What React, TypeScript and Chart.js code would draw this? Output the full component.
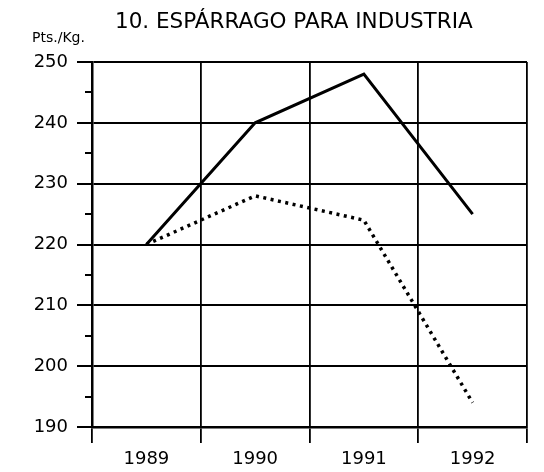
import { useEffect, useRef } from "react";
import { Chart, registerables } from "chart.js";
Chart.register(...registerables);

const chartTitle = "10. ESPÁRRAGO PARA INDUSTRIA";
const unitLabel = "Pts./Kg.";
const years = ["1989", "1990", "1991", "1992"];
const seriesSolid = [220, 240, 248, 225];
const seriesDotted = [220, 228, 224, 194];
const yMin = 190;
const yMax = 250;
const yMajorStep = 10;
const yMinorStep = 5;

const FONT = "'DejaVu Sans', sans-serif";
const INK = "#000";

const decor = {
  id: "decor",
  afterDraw(chart: any) {
    const ctx = chart.ctx;
    const y = chart.scales.y;
    ctx.save();
    ctx.strokeStyle = INK;
    ctx.lineWidth = 2;
    for (let v = yMin + yMinorStep; v < yMax; v += yMajorStep) {
      const py = Math.round(y.getPixelForValue(v));
      ctx.beginPath();
      ctx.moveTo(y.right - 7, py);
      ctx.lineTo(y.right, py);
      ctx.stroke();
    }
    ctx.fillStyle = INK;
    ctx.textAlign = "left";
    ctx.textBaseline = "alphabetic";
    ctx.font = `21.5px ${FONT}`;
    ctx.fillText(chartTitle, 115, 28);
    ctx.font = `14px ${FONT}`;
    ctx.fillText(unitLabel, 32, 42);
    ctx.restore();
  },
};

export default function App() {
  const ref = useRef<HTMLCanvasElement | null>(null);
  useEffect(() => {
    if (!ref.current) return;
    const chart = new Chart(ref.current, {
      type: "line",
      data: {
        labels: years,
        datasets: [
          {
            data: seriesSolid,
            borderColor: INK,
            borderWidth: 3,
            pointRadius: 0,
            tension: 0,
            fill: false,
          },
          {
            data: seriesDotted,
            borderColor: INK,
            borderWidth: 3.5,
            borderDash: [3, 4.5],
            borderCapStyle: "butt",
            pointRadius: 0,
            tension: 0,
            fill: false,
          },
        ],
      },
      options: {
        responsive: false,
        animation: false,
        layout: { padding: { top: 62, right: 17, left: 0, bottom: 0 } },
        plugins: {
          legend: { display: false },
          title: { display: false },
          tooltip: { enabled: false },
        },
        scales: {
          x: {
            type: "category",
            offset: true,
            grid: { offset: true, color: INK, lineWidth: 1.8, tickLength: 16, drawTicks: true },
            border: { color: INK, width: 2.5 },
            ticks: { color: INK, font: { family: FONT, size: 18 }, padding: 6, maxRotation: 0 },
            afterFit: (s: any) => {
              s.height = 45;
            },
          },
          y: {
            min: yMin,
            max: yMax,
            grid: { color: INK, lineWidth: 2, tickLength: 15 },
            border: { color: INK, width: 2.5 },
            ticks: { stepSize: yMajorStep, color: INK, font: { family: FONT, size: 18 }, padding: 9 },
            afterFit: (s: any) => {
              s.width = 92;
            },
          },
        },
      },
      plugins: [decor],
    });
    return () => chart.destroy();
  }, []);
  return (
    <div style={{ position: "fixed", left: 0, top: 0, width: 544, height: 472, background: "#fff" }}>
      <canvas ref={ref} width={544} height={472} />
    </div>
  );
}
